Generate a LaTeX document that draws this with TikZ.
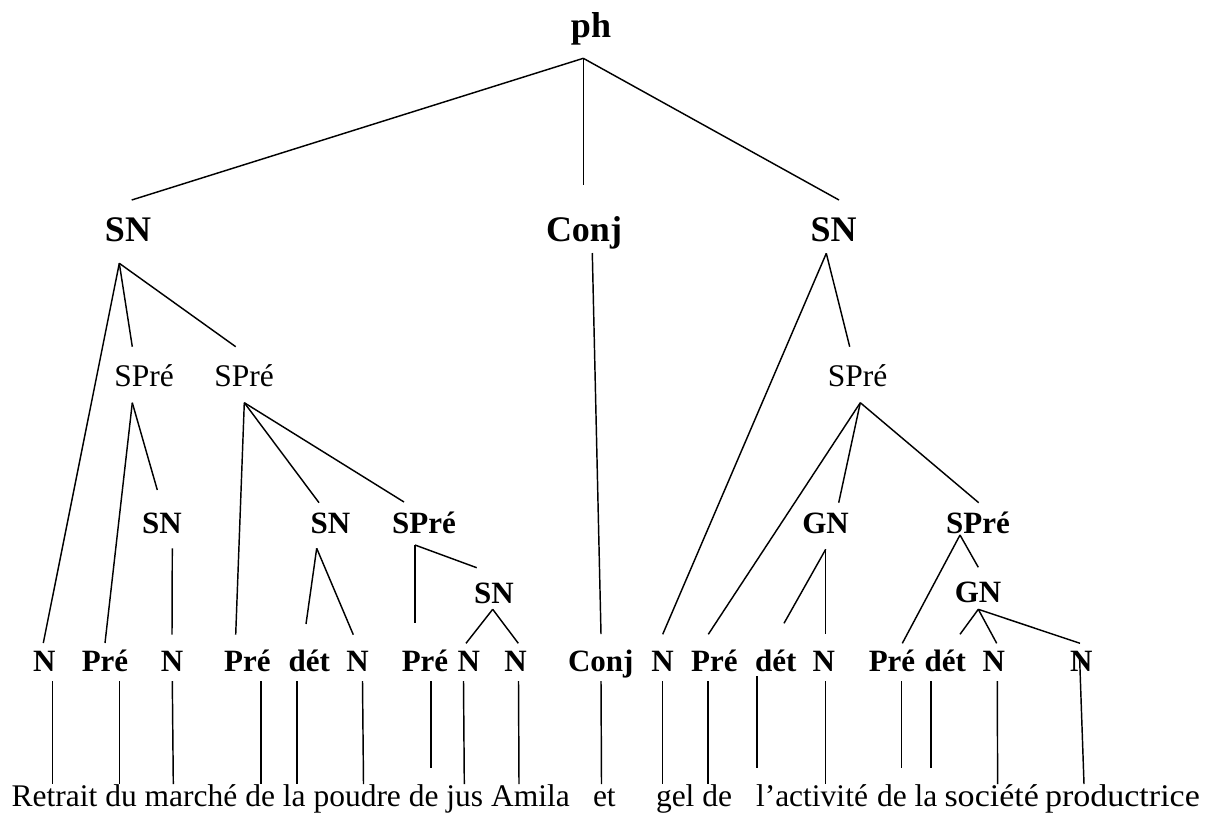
\documentclass[tikz,border=0pt]{standalone}
\usepackage{fontspec}
\setmainfont{Liberation Serif}
\begin{document}
\begin{tikzpicture}[x=1pt,y=-1pt,
  lab/.style={anchor=base,inner sep=0pt,outer sep=0pt},
  big/.style={lab,font=\fontsize{36}{40}\selectfont\bfseries},
  cat/.style={lab,font=\fontsize{31}{36}\selectfont\bfseries},
  phr/.style={lab,font=\fontsize{31.5}{36}\selectfont},
  word/.style={anchor=base west,inner sep=0pt,outer sep=0pt,font=\fontsize{31.5}{36}\selectfont},
  br/.style={line width=1.45pt,line cap=butt}]
\useasboundingbox (0,0) rectangle (1212,823);
% ---------- labels ----------
\node[big] (ph) at (591,37) {ph};
\node[big] (snA) at (128,241.7) {SN};
\node[big] (conjA) at (584,241.7) {Conj};
\node[big] (snB) at (833.5,241.7) {SN};
\node[phr] (sp1) at (144.2,386.7) {SPré};
\node[phr] (sp2) at (244.2,386.7) {SPré};
\node[phr] (sp3) at (857.7,386.7) {SPré};
\node[cat] (sn1) at (162,533.3) {SN};
\node[cat] (sn2) at (330.5,533.3) {SN};
\node[cat] (sp4) at (424,533.3) {SPré};
\node[cat] (gn1) at (825.5,533.3) {GN};
\node[cat] (sp5) at (978,533.3) {SPré};
\node[cat] (sn3) at (494,603.3) {SN};
\node[cat] (gn2) at (978,602) {GN};
\node[cat] (t1) at (44.2,671) {N};
\node[cat] (t2) at (105,671) {Pré};
\node[cat] (t3) at (172,671) {N};
\node[cat] (t4) at (247.3,671) {Pré};
\node[cat] (t5) at (309.2,671) {dét};
\node[cat] (t6) at (357.5,671) {N};
\node[cat] (t7) at (425,671) {Pré};
\node[cat] (t8) at (468.8,671) {N};
\node[cat] (t9) at (515.5,671) {N};
\node[cat] (t10) at (600.8,671) {Conj};
\node[cat] (t11) at (662.5,671) {N};
\node[cat] (t12) at (714.3,671) {Pré};
\node[cat] (t13) at (775.8,671) {dét};
\node[cat] (t14) at (823.8,671) {N};
\node[cat] (t15) at (892,671) {Pré};
\node[cat] (t16) at (945.2,671) {dét};
\node[cat] (t17) at (993.8,671) {N};
\node[cat] (t18) at (1081.3,671) {N};
% ---------- words ----------
\node[word] (w1) at (11.7,806) {Retrait du marché de la poudre de jus Amila};
\node[word] (w2) at (593,806) {et};
\node[word] (w3) at (656,806) {gel de};
\node[word] (w4) at (756,806) {l’activité};
\node[word] (w5) at (877,806) {de la};
\node[word] (w6) at (944.5,806) {\scalebox{1.08}[1]{société}};
\node[word] (w7) at (1045,806) {\scalebox{1.08}[1]{productrice}};
% ---------- attachment points ----------
\coordinate (ph-d) at (583.3,58.3);
\coordinate (snA-u) at (131.7,200);   \coordinate (snA-d) at (119.3,263.3);
\coordinate (conjA-u) at (583.3,185); \coordinate (conjA-d) at (592.3,253);
\coordinate (snB-u) at (839,200);     \coordinate (snB-d) at (826.3,253.3);
\coordinate (sp1-u) at (132.3,346.7); \coordinate (sp1-d) at (132.3,402.7);
\coordinate (sp2-u) at (235.7,346.7); \coordinate (sp2-d) at (244.3,402.7);
\coordinate (sp3-u) at (849.7,346.7); \coordinate (sp3-d) at (860.3,402.7);
\coordinate (sn1-u) at (157.3,490);   \coordinate (sn1-d) at (172.3,548.3);
\coordinate (sn2-u) at (319,502.7);   \coordinate (sn2-d) at (316.7,548.3);
\coordinate (sp4-u) at (404,502);     \coordinate (sp4-d) at (415,545);
\coordinate (gn1-u) at (838.7,502.7); \coordinate (gn1-d) at (825.7,549.3);
\coordinate (sp5-u) at (978.7,502.7); \coordinate (sp5-d) at (960,535);
\coordinate (sn3-u) at (476.7,567.7); \coordinate (sn3-d) at (492.7,609.3);
\coordinate (gn2-u) at (978.3,567.3); \coordinate (gn2-d) at (978.3,609.3);
\coordinate (t1-u) at (43.3,643);    \coordinate (t1-d) at (52.3,681);   \coordinate (t1-w) at (52.3,784);
\coordinate (t2-u) at (105,643);     \coordinate (t2-d) at (119.5,681);  \coordinate (t2-w) at (119.5,784);
\coordinate (t3-u) at (172,634.7);   \coordinate (t3-d) at (172.3,681);  \coordinate (t3-w) at (173.3,784);
\coordinate (t4-u) at (235.7,634.7); \coordinate (t4-d) at (261,681);    \coordinate (t4-w) at (261,784);
\coordinate (t5-u) at (306,624);     \coordinate (t5-d) at (296.8,681);  \coordinate (t5-w) at (296.8,784);
\coordinate (t6-u) at (353.3,634.7); \coordinate (t6-d) at (362.5,681);  \coordinate (t6-w) at (363.5,784);
\coordinate (t7-u) at (415,623.3);   \coordinate (t7-d) at (430.8,681);  \coordinate (t7-w) at (430.8,768);
\coordinate (t8-u) at (466,643.3);   \coordinate (t8-d) at (463.5,681);  \coordinate (t8-w) at (464.3,784);
\coordinate (t9-u) at (518.3,643.3); \coordinate (t9-d) at (518.5,681);  \coordinate (t9-w) at (519,784);
\coordinate (t10-u) at (601,634);    \coordinate (t10-d) at (601,681);   \coordinate (t10-w) at (601.5,784);
\coordinate (t11-u) at (662.7,634.3);\coordinate (t11-d) at (662.6,681); \coordinate (t11-w) at (662.6,784);
\coordinate (t12-u) at (708.3,634.3);\coordinate (t12-d) at (708.2,681); \coordinate (t12-w) at (708.2,784);
\coordinate (t13-u) at (784,623.3);  \coordinate (t13-d) at (757,676);   \coordinate (t13-w) at (757,768);
\coordinate (t14-u) at (825.7,634.3);\coordinate (t14-d) at (825.7,681); \coordinate (t14-w) at (825.7,784);
\coordinate (t15-u) at (902.3,643.3);\coordinate (t15-d) at (901.7,681); \coordinate (t15-w) at (901.7,768);
\coordinate (t16-u) at (960,634.3);  \coordinate (t16-d) at (931,681);   \coordinate (t16-w) at (931,768);
\coordinate (t17-u) at (996.7,643.3);\coordinate (t17-d) at (997.3,681); \coordinate (t17-w) at (997.6,784);
\coordinate (t18-u) at (1080,643.3); \coordinate (t18-d) at (1079.5,655); \coordinate (t18-w) at (1084,784);
% ---------- branches ----------
\draw[br] (ph-d) -- (snA-u);
\draw[br] (ph-d) -- (conjA-u);
\draw[br] (ph-d) -- (snB-u);
\draw[br] (snA-d) -- (t1-u);
\draw[br] (snA-d) -- (sp1-u);
\draw[br] (snA-d) -- (sp2-u);
\draw[br] (conjA-d) -- (t10-u);
\draw[br] (snB-d) -- (t11-u);
\draw[br] (snB-d) -- (sp3-u);
\draw[br] (sp1-d) -- (t2-u);
\draw[br] (sp1-d) -- (sn1-u);
\draw[br] (sp2-d) -- (t4-u);
\draw[br] (sp2-d) -- (sn2-u);
\draw[br] (sp2-d) -- (sp4-u);
\draw[br] (sp3-d) -- (t12-u);
\draw[br] (sp3-d) -- (gn1-u);
\draw[br] (sp3-d) -- (sp5-u);
\draw[br] (sn1-d) -- (t3-u);
\draw[br] (sn2-d) -- (t5-u);
\draw[br] (sn2-d) -- (t6-u);
\draw[br] (sp4-d) -- (t7-u);
\draw[br] (sp4-d) -- (sn3-u);
\draw[br] (sn3-d) -- (t8-u);
\draw[br] (sn3-d) -- (t9-u);
\draw[br] (gn1-d) -- (t13-u);
\draw[br] (gn1-d) -- (t14-u);
\draw[br] (sp5-d) -- (t15-u);
\draw[br] (sp5-d) -- (gn2-u);
\draw[br] (gn2-d) -- (t16-u);
\draw[br] (gn2-d) -- (t17-u);
\draw[br] (gn2-d) -- (t18-u);
% ---------- leaf stems ----------
\foreach \i in {1,...,18} {\draw[br] (t\i-d) -- (t\i-w);}
\end{tikzpicture}
\end{document}
